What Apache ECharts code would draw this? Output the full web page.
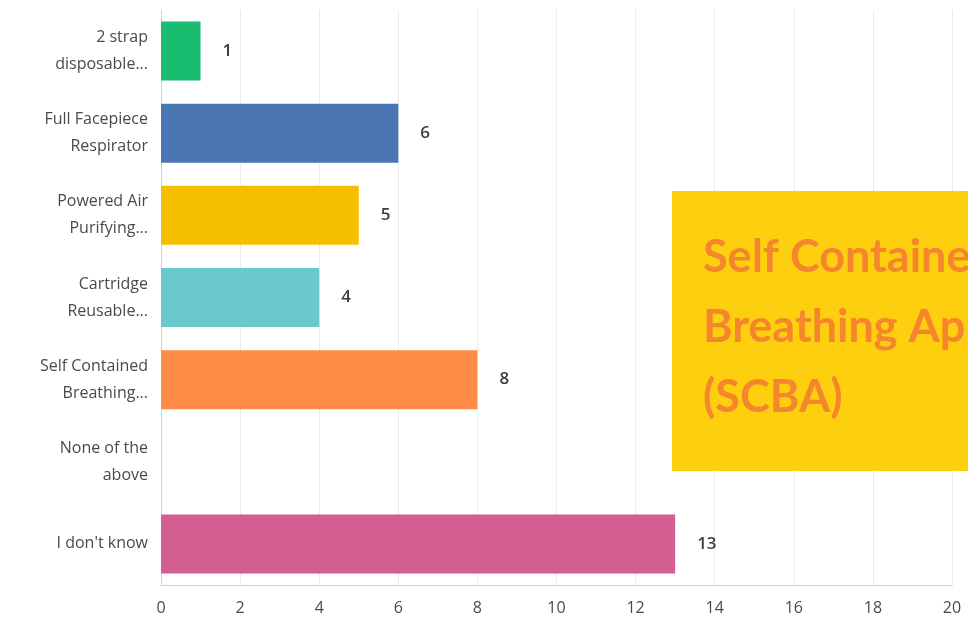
<!DOCTYPE html>
<html><head><meta charset="utf-8">
<script src="https://cdn.jsdelivr.net/npm/echarts@6/dist/echarts.min.js"></script>
<style>html,body{margin:0;padding:0;background:#fff}#c{width:968px;height:623px}</style>
</head><body><div id="c"></div>
<script>
const categories = ["2 strap\ndisposable...", "Full Facepiece\nRespirator", "Powered Air\nPurifying...", "Cartridge\nReusable...", "Self Contained\nBreathing...", "None of the\nabove", "I don't know"];
const values = [1, 6, 5, 4, 8, 0, 13];
const barColors = ["#1ABC70", "#4A77B4", "#F5BE00", "#69C9CC", "#FF8B47", "#999999", "#D45D92"];
const xTicks = [0, 2, 4, 6, 8, 10, 12, 14, 16, 18, 20];
const noteLines = ["Self Contained", "Breathing Apparatus", "(SCBA)"];

const noteFont = 'bold 45px "Comic Sans MS", "Lato", "DejaVu Sans", sans-serif';
const chart = echarts.init(document.getElementById('c'));
chart.setOption({
  animation: false,
  grid: {left: 161, right: 16, top: 10, bottom: 38},
  xAxis: {
    type: 'value', min: xTicks[0], max: xTicks[xTicks.length-1], interval: 2,
    axisLine: {show: true, lineStyle: {color: '#d0d0d0'}},
    axisTick: {show: false},
    splitLine: {show: true, lineStyle: {color: '#ebebeb'}},
    axisLabel: {color: '#4a4a4a', fontFamily: 'Open Sans', fontSize: 16, margin: 15}
  },
  yAxis: {
    type: 'category', data: categories, inverse: true,
    axisLine: {show: true, lineStyle: {color: '#d0d0d0'}},
    axisTick: {show: false},
    axisLabel: {color: '#4a4a4a', fontFamily: 'Open Sans', fontSize: 16, lineHeight: 27, margin: 13, align: 'right'}
  },
  series: [{
    type: 'bar', barWidth: 59,
    data: values.map((v, i) => ({value: v, itemStyle: {color: barColors[i]}, label: {show: v > 0}})),
    label: {position: 'right', distance: 22, color: '#3c3c3c', fontFamily: 'Open Sans', fontWeight: 600, fontSize: 17}
  }],
  graphic: [{
    type: 'group', left: 672, top: 191, z: 100,
    children: [
      {type: 'rect', z: 100, shape: {x: 0, y: 0, width: 300, height: 280}, style: {fill: '#FDCF0E'}},
      {type: 'text', z: 101, x: 31, y: 44, style: {text: noteLines[0], fill: '#F5862D', font: noteFont}},
      {type: 'text', z: 101, x: 31, y: 114, style: {text: noteLines[1], fill: '#F5862D', font: noteFont}},
      {type: 'text', z: 101, x: 31, y: 184, style: {text: noteLines[2], fill: '#F5862D', font: noteFont}}
    ]
  }]
});
</script></body></html>
